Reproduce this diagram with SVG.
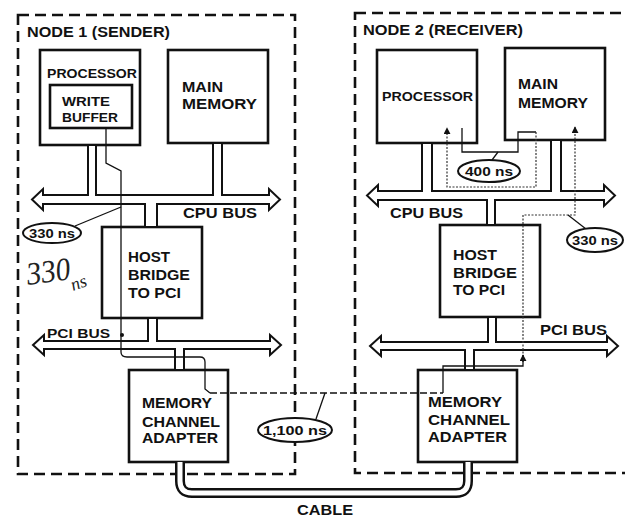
<svg xmlns="http://www.w3.org/2000/svg" width="625" height="517" viewBox="0 0 625 517">
<style>
.frame{fill:none;stroke:#111;stroke-width:2.6;stroke-dasharray:11,6}
.box{fill:#fff;stroke:#111;stroke-width:2.6}
.bus{fill:#fff;stroke:#111;stroke-width:2;stroke-linejoin:miter}
.path{fill:none;stroke:#111;stroke-width:1.3}
.dot{fill:none;stroke:#333;stroke-width:1.2;stroke-dasharray:2,1.5}
.dash{fill:none;stroke:#111;stroke-width:1.3;stroke-dasharray:7,3}
.oval{fill:#fff;stroke:#111;stroke-width:2}
.t{font-family:"Liberation Sans",Arial,sans-serif;font-weight:bold;font-size:14px;fill:#111}
.s{font-size:12px}
.hand{font-family:"Liberation Serif",serif;font-style:italic;fill:#222}
</style>
<defs>
<marker id="ah" viewBox="0 0 8 8" refX="7" refY="4" markerWidth="7" markerHeight="7" orient="auto" markerUnits="userSpaceOnUse">
<path d="M0,0 L8,4 L0,8 Z" fill="#111"/>
</marker>
</defs>

<g id="node1-frame">
<rect class="frame" x="18" y="15" width="277" height="459"/>
<text class="t" x="27" y="37" textLength="143" lengthAdjust="spacingAndGlyphs">NODE 1 (SENDER)</text>
</g>
<g id="node2-frame">
<rect class="frame" x="355" y="13" width="300" height="460"/>
<text class="t" x="363" y="35" textLength="160" lengthAdjust="spacingAndGlyphs">NODE 2 (RECEIVER)</text>
</g>

<g id="n1-processor">
<rect class="box" x="40" y="50" width="100" height="95"/>
<text class="t s" x="47" y="78" textLength="90" lengthAdjust="spacingAndGlyphs">PROCESSOR</text>
</g>
<g id="n1-write-buffer">
<rect class="box" x="50" y="85" width="82" height="43"/>
<text class="t s" x="62" y="106" textLength="48" lengthAdjust="spacingAndGlyphs">WRITE</text>
<text class="t s" x="62" y="122" textLength="56" lengthAdjust="spacingAndGlyphs">BUFFER</text>
</g>
<g id="n1-main-memory">
<rect class="box" x="168" y="50" width="100" height="93"/>
<text class="t" x="182" y="92" textLength="41" lengthAdjust="spacingAndGlyphs">MAIN</text>
<text class="t" x="182" y="109" textLength="75" lengthAdjust="spacingAndGlyphs">MEMORY</text>
</g>
<g id="n1-host-bridge">
<rect class="box" x="102" y="227" width="100" height="91"/>
<text class="t" x="128" y="262" textLength="42" lengthAdjust="spacingAndGlyphs">HOST</text>
<text class="t" x="128" y="280" textLength="62" lengthAdjust="spacingAndGlyphs">BRIDGE</text>
<text class="t" x="128" y="298" textLength="53" lengthAdjust="spacingAndGlyphs">TO PCI</text>
</g>
<g id="n1-mca">
<rect class="box" x="129" y="370" width="99" height="92"/>
<text class="t" x="142" y="408" textLength="70" lengthAdjust="spacingAndGlyphs">MEMORY</text>
<text class="t" x="142" y="427" textLength="78" lengthAdjust="spacingAndGlyphs">CHANNEL</text>
<text class="t" x="142" y="443" textLength="76" lengthAdjust="spacingAndGlyphs">ADAPTER</text>
</g>

<g id="n2-processor">
<rect class="box" x="377" y="50" width="100" height="93"/>
<text class="t s" x="382" y="101" textLength="91" lengthAdjust="spacingAndGlyphs">PROCESSOR</text>
</g>
<g id="n2-main-memory">
<rect class="box" x="505" y="48" width="100" height="92"/>
<text class="t" x="518" y="89" textLength="40" lengthAdjust="spacingAndGlyphs">MAIN</text>
<text class="t" x="518" y="108" textLength="70" lengthAdjust="spacingAndGlyphs">MEMORY</text>
</g>
<g id="n2-host-bridge">
<rect class="box" x="440" y="225" width="100" height="92"/>
<text class="t" x="453" y="260" textLength="44" lengthAdjust="spacingAndGlyphs">HOST</text>
<text class="t" x="453" y="278" textLength="64" lengthAdjust="spacingAndGlyphs">BRIDGE</text>
<text class="t" x="453" y="295" textLength="52" lengthAdjust="spacingAndGlyphs">TO PCI</text>
</g>
<g id="n2-mca">
<rect class="box" x="418" y="370" width="99" height="92"/>
<text class="t" x="428" y="407" textLength="74" lengthAdjust="spacingAndGlyphs">MEMORY</text>
<text class="t" x="428" y="425" textLength="82" lengthAdjust="spacingAndGlyphs">CHANNEL</text>
<text class="t" x="428" y="442" textLength="79" lengthAdjust="spacingAndGlyphs">ADAPTER</text>
</g>

<g id="connectors">
<!-- buses -->
<polygon class="bus" points="32,199.5 43,189 43,195 88,195 88,145 96,145 96,195 213,195 213,143 222,143 222,195 269,195 269,189 280,199.5 269,210 269,204 157,204 157,227 145,227 145,204 43,204 43,210"/>
<polygon class="bus" points="33,345 44,335 44,341 148,341 148,318 157,318 157,341 270,341 270,335 281,345 270,355 270,349 184,349 184,370 175,370 175,349 44,349 44,355"/>
<polygon class="bus" points="367,195.5 378,185 378,191 422,191 422,143 432,143 432,191 551,191 551,140 561,140 561,191 604,191 604,185 615,195.5 604,206 604,200 495,200 495,225 487,225 487,200 378,200 378,206"/>
<polygon class="bus" points="370,346 381,336 381,342 488,342 488,317 496,317 496,342 607,342 607,336 618,346 607,356 607,350 474,350 474,370 465,370 465,350 381,350 381,356"/>
<!-- cable -->
<path d="M180,462 V481 Q180,493 192,493 H456 Q468,493 468,481 V462" fill="none" stroke="#111" stroke-width="10"/>
<path d="M180,462 V481 Q180,493 192,493 H456 Q468,493 468,481 V462" fill="none" stroke="#fff" stroke-width="5"/>
<!-- data path node 1 -->
<path class="path" d="M106,128 V163 L121,171 V352 Q121,357 127,357 H200 Q205,357 205,362 V389 L210,393"/>
<circle cx="122" cy="335" r="2" fill="#111"/>
<path class="dash" d="M210,393 H443"/>
<!-- data path node 2 -->
<path class="path" d="M443,393 V366 H523 V357"/>
<path class="dot" d="M523,357 V215 H575 V127" marker-end="url(#ah)"/>
<path class="path" d="M523,362 V355" marker-end="url(#ah)"/>
<!-- read loop node 2 -->
<path class="path" d="M462,128 V152 H518 V132 H536"/>
<path class="dot" d="M536,132 V187 H447 V128" marker-end="url(#ah)"/>
<!-- leaders -->
<path class="path" d="M75,226 L121,207"/>
<path class="path" d="M492,160 L498,152"/>
<path class="path" d="M586,229 L568,215"/>
<path class="path" d="M316,419 L325,393"/>
</g>

<g id="label-330ns-n1">
<ellipse class="oval" cx="52" cy="233" rx="29" ry="10"/>
<text class="t s" x="52" y="237.5" text-anchor="middle" textLength="46" lengthAdjust="spacingAndGlyphs">330 ns</text>
</g>
<g id="label-400ns">
<ellipse class="oval" cx="489" cy="171" rx="31" ry="11"/>
<text class="t s" x="489" y="175.5" text-anchor="middle" textLength="48" lengthAdjust="spacingAndGlyphs">400 ns</text>
</g>
<g id="label-330ns-n2">
<ellipse class="oval" cx="595" cy="240" rx="28" ry="12"/>
<text class="t s" x="595" y="244.5" text-anchor="middle" textLength="46" lengthAdjust="spacingAndGlyphs">330 ns</text>
</g>
<g id="label-1100ns">
<ellipse class="oval" cx="295" cy="430" rx="37" ry="12"/>
<text class="t s" x="295" y="434.5" text-anchor="middle" textLength="64" lengthAdjust="spacingAndGlyphs">1,100 ns</text>
</g>

<g id="bus-labels">
<text class="t" x="183" y="218" textLength="74" lengthAdjust="spacingAndGlyphs">CPU BUS</text>
<text class="t s" x="47" y="338" textLength="63" lengthAdjust="spacingAndGlyphs">PCI BUS</text>
<text class="t" x="390" y="218" textLength="73" lengthAdjust="spacingAndGlyphs">CPU BUS</text>
<text class="t" x="540" y="335" textLength="67" lengthAdjust="spacingAndGlyphs">PCI BUS</text>
<text class="t" x="297" y="515" textLength="56" lengthAdjust="spacingAndGlyphs">CABLE</text>
</g>

<g id="handwritten-note">
<text class="hand" transform="translate(28,285) rotate(-8)"><tspan font-size="32" textLength="44" lengthAdjust="spacingAndGlyphs">330</tspan></text>
<text class="hand" font-size="18" transform="translate(73,291) rotate(-20)">ns</text>
</g>
</svg>
